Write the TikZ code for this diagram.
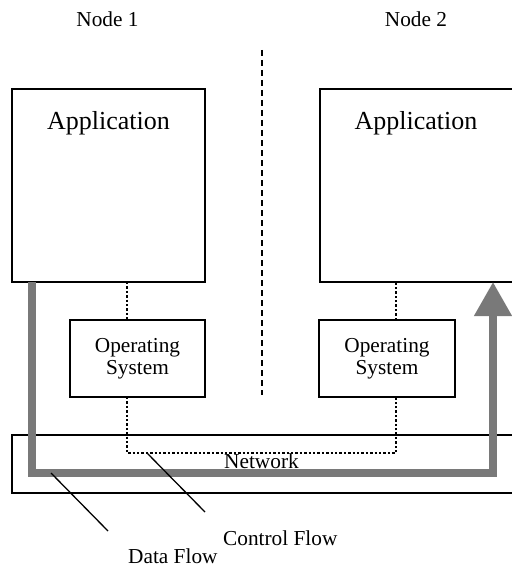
\documentclass[tikz,border=0pt]{standalone}
\usepackage{fontspec}
\setmainfont{Liberation Serif}
\usetikzlibrary{arrows.meta}
\tikzset{
  box/.style={draw=black, line width=1.6pt, inner sep=0pt, outer sep=0pt},
  lbl/.style={inner sep=0pt, font=\fontsize{21.3}{22.5}\selectfont},
  biglbl/.style={inner sep=0pt, font=\fontsize{26}{28}\selectfont},
  ctrl/.style={line width=2.4pt, dash pattern=on 2.4pt off 2pt},
  dataflow/.style={line width=7.5pt, draw=gray!95!black, -{Triangle[width=36pt,length=34pt]}},
  leader/.style={line width=1.3pt},
  sep/.style={line width=1.5pt, dash pattern=on 6pt off 4pt},
}
\begin{document}
\begin{tikzpicture}[x=1pt,y=-1pt]
\useasboundingbox[fill=white] (0,0) rectangle (511,567);
% boxes
\node[box, minimum width=193pt, minimum height=193pt, anchor=north west] (app1) at (12,89) {};
\node[box, minimum width=220pt, minimum height=193pt, anchor=north west] (app2) at (320,89) {};
\node[box, minimum width=135pt, minimum height=77pt, anchor=north west] (os1) at (70,320) {};
\node[box, minimum width=136pt, minimum height=77pt, anchor=north west] (os2) at (319,320) {};
\node[box, minimum width=530pt, minimum height=58pt, anchor=north west] (net) at (12,435) {};
% texts
\node[lbl, anchor=base] (n1) at (107.5,27) {Node 1};
\node[lbl, anchor=base] (n2) at (416,27) {Node 2};
\node[biglbl, anchor=base] (a1) at (108.5,129) {Application};
\node[biglbl, anchor=base] (a2) at (416,129) {Application};
\node[lbl, align=center] (o1) at (137.5,358.5) {Operating\\System};
\node[lbl, align=center] (o2) at (387,358.5) {Operating\\System};
\node[lbl, anchor=base] (nt) at (261.5,468) {Network};
\node[lbl, anchor=base west] (cf) at (223,545) {Control Flow};
\node[lbl, anchor=base west] (df) at (128,563) {Data Flow};
% separator
\coordinate (s1) at (262,50);
\coordinate (s2) at (262,395);
\draw[sep] (s1) -- (s2);
% control flow (dotted)
\coordinate (c1) at (127,282);
\coordinate (c2) at (127,320);
\coordinate (c3) at (127,397);
\coordinate (c4) at (127,453);
\coordinate (c5) at (396,453);
\coordinate (c6) at (396,397);
\coordinate (c7) at (396,320);
\coordinate (c8) at (396,282);
\draw[ctrl] (c1) -- (c2);
\draw[ctrl] (c3) -- (c4) -- (c5) -- (c6);
\draw[ctrl] (c7) -- (c8);
% data flow
\coordinate (d1) at (32,282);
\coordinate (d2) at (32,473);
\coordinate (d3) at (493,473);
\coordinate (d4) at (493,282);
\draw[dataflow] (d1) -- (d2) -- (d3) -- (d4);
% leader lines
\coordinate (l1) at (51,473);
\coordinate (l2) at (108,531);
\coordinate (l3) at (147,453);
\coordinate (l4) at (205,512);
\draw[leader] (l1) -- (l2);
\draw[leader] (l3) -- (l4);
\end{tikzpicture}
\end{document}
